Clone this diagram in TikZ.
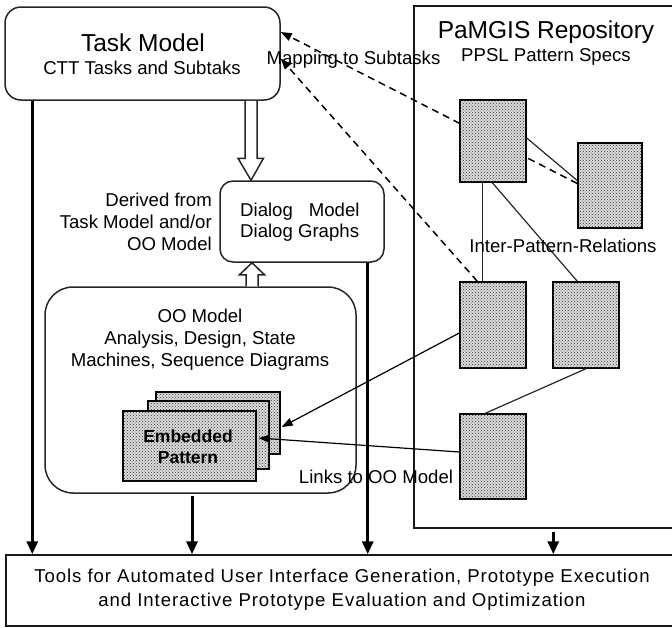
\documentclass[tikz,border=0pt]{standalone}
\usepackage{fontspec}
\setmainfont{Liberation Sans}
\usetikzlibrary{arrows.meta,calc,patterns}
\begin{document}
\begin{tikzpicture}[x=1pt,y=-1pt,
  body/.style={font=\fontsize{18.6}{22}\selectfont, inner sep=0pt},
  spaced/.style={font=\fontsize{18.6}{22}\selectfont\addfontfeature{LetterSpace=5}, inner sep=0pt},
  titletext/.style={font=\fontsize{24.5}{28}\selectfont, inner sep=0pt},
  rbox/.style={draw=black!85, line width=1.5pt, fill=white, inner sep=0pt},
  plainbox/.style={draw=black!90, line width=1.5pt, inner sep=0pt},
  patbox/.style={draw=black, line width=1.4pt, fill=black!14, postaction={pattern=crosshatch dots, pattern color=black!80}, inner sep=0pt},
  thickarrow/.style={line width=3pt, -{Triangle[length=13pt,width=11pt]}},
  thinarrow/.style={line width=1.2pt, -{Triangle[length=11pt,width=8pt]}},
  solidline/.style={line width=1.2pt, draw=black!85},
  dashline/.style={line width=1.5pt, dash pattern=on 7pt off 5pt},
  hollow/.style={draw=black!85, line width=1.5pt, fill=white},
]
\useasboundingbox (0,0) rectangle (672,627);
\clip (0,0) rectangle (672,627);

% big frames
\node[plainbox, minimum width=276pt, minimum height=522pt] (repo) at (552,267) {};
\node[plainbox, minimum width=684pt, minimum height=71pt] (tools) at (348,590.5) {};
\node[rbox, rounded corners=16pt, minimum width=275pt, minimum height=93pt] (task) at (142.5,53.5) {};
\node[rbox, rounded corners=13pt, minimum width=164pt, minimum height=81pt] (dialog) at (302,221.5) {};
\node[rbox, rounded corners=28pt, minimum width=311pt, minimum height=206pt] (oo) at (200.5,390) {};

% pattern boxes (p2 first, dashed line passes behind p1)
\node[patbox, minimum width=64pt, minimum height=85pt] (p2) at (610,185.5) {};
\coordinate (t1) at ($(task.east)+(0,-21.5)$);
\coordinate (t2) at ($(task.east)+(0,5)$);
\draw[dashline, -{Triangle[length=11pt,width=8pt]}] ($(p2.west)+(0,-2)$) -- (t1);
\node[patbox, minimum width=66pt, minimum height=82pt] (p1) at (493,141) {};
\node[patbox, minimum width=66pt, minimum height=86pt] (p3) at (493,325) {};
\node[patbox, minimum width=66pt, minimum height=86pt] (p4) at (586,325) {};
\node[patbox, minimum width=66pt, minimum height=85pt] (p5) at (493,456.5) {};
\draw[dashline, -{Triangle[length=11pt,width=8pt]}] ($(p3.north west)+(18,0)$) -- (t2);

% inter-pattern relations
\draw[solidline] ($(p1.south west)+(23,0)$) -- ($(p3.north west)+(23,0)$);
\draw[solidline] ($(p1.south west)+(33,0)$) -- ($(p4.north west)+(25,0)$);
\draw[solidline] ($(p1.east)+(0,-3)$) -- ($(p2.west)+(0,-5)$);
\draw[solidline] (p4.south) -- ($(p5.north west)+(26,0)$);

% embedded pattern stack
\node[patbox, minimum width=124pt, minimum height=62pt] (e3) at (218,423) {};
\node[patbox, minimum width=121pt, minimum height=68pt] (e2) at (208.5,435) {};
\node[patbox, minimum width=133pt, minimum height=70pt] (e1) at (189.5,446) {};
\node[body, font=\fontsize{17.5}{21}\selectfont\bfseries, align=center, text=black] (etext) at (188,446.5) {Embedded\\Pattern};

% links to OO model
\draw[thinarrow] ($(p3.west)+(0,8)$) -- ($(e3.east)+(1,4)$);
\draw[thinarrow] ($(p5.west)+(0,-4.5)$) -- ($(e1.east)+(2,-8)$);

% hollow arrows
\coordinate (h1) at ($(task.south)+(108.5,0)$);
\coordinate (h1t) at (h1 |- dialog.north);
\draw[hollow] ($(h1)+(-6,0)$) -- ($(h1t)+(-6,-22)$) -- ($(h1t)+(-13,-22)$) -- (h1t) -- ($(h1t)+(12.5,-22)$) -- ($(h1t)+(6,-22)$) -- ($(h1)+(6,0)$);
\coordinate (h2) at ($(oo.north)+(51.5,0)$);
\coordinate (h2t) at (h2 |- dialog.south);
\draw[hollow] ($(h2)+(-6,0)$) -- ($(h2t)+(-6,12)$) -- ($(h2t)+(-12.5,12)$) -- (h2t) -- ($(h2t)+(12.5,12)$) -- ($(h2t)+(6,12)$) -- ($(h2)+(6,0)$);

% thick arrows to tools
\coordinate (a1) at ($(task.south west)+(28,0)$);
\draw[thickarrow] (a1) -- (a1 |- tools.north);
\coordinate (a2) at ($(oo.south)+(-8.5,2)$);
\draw[thickarrow] (a2) -- (a2 |- tools.north);
\coordinate (a3) at ($(dialog.south east)+(-17,0)$);
\draw[thickarrow] (a3) -- (a3 |- tools.north);
\coordinate (a4) at ($(repo.south west)+(140,3)$);
\draw[thickarrow] (a4) -- (a4 |- tools.north);

% texts
\node[titletext] (tmtitle) at (143,43) {Task Model};
\node[body] (tmsub) at (142,68) {CTT Tasks and Subtaks};
\node[body] (maplabel) at (353.5,60) {Mapping to Subtasks};
\node[titletext] (repotitle) at (546,32) {PaMGIS Repository};
\node[body] (reposub) at (546,57) {PPSL Pattern Specs};
\node[body] (iprlabel) at (563,246) {Inter-Pattern-Relations};
\node[body] (linkslabel) at (376,477) {Links to OO Model};
\node[body, align=right, anchor=east] (derived) at (212,222) {Derived from\\Task Model and/or\\OO Model};
\node[body, font=\fontsize{18.6}{21}\selectfont, align=left, anchor=west] (dtext) at (240,222.5) {Dialog\hspace{16pt}Model\\Dialog Graphs};
\node[body, align=center] (ootext) at (200,340) {OO Model\\Analysis, Design, State\\Machines, Sequence Diagrams};
\node[spaced] (tools1) at (342,578) {Tools for Automated User Interface Generation, Prototype Execution};
\node[spaced] (tools2) at (342,602) {and Interactive Prototype Evaluation and Optimization};
\end{tikzpicture}
\end{document}
